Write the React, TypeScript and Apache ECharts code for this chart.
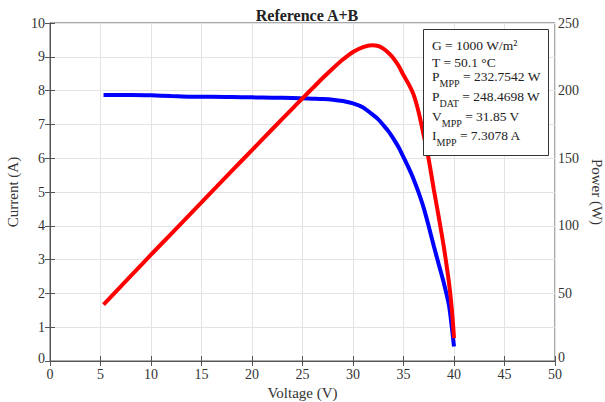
import React, { useEffect, useRef } from "react";
import * as echarts from "echarts";

const voltage = [5.3, 8, 10, 12, 14, 16, 18, 20, 22, 24, 25, 26, 27, 28, 29, 30, 31, 31.85, 32.5, 33, 33.5, 34, 34.5, 35, 35.5, 36, 36.5, 37, 37.5, 38, 38.5, 39, 39.5, 39.8, 40];
const current = [7.87, 7.87, 7.86, 7.84, 7.82, 7.82, 7.81, 7.8, 7.79, 7.78, 7.77, 7.76, 7.75, 7.73, 7.69, 7.62, 7.5, 7.31, 7.15, 6.98, 6.8, 6.58, 6.33, 6.03, 5.72, 5.38, 4.98, 4.53, 3.98, 3.4, 2.85, 2.3, 1.65, 0.95, 0.43];
const power = [41.7, 63.0, 78.6, 94.1, 109.5, 125.1, 140.6, 156.0, 171.4, 186.7, 194.3, 201.8, 209.3, 216.4, 223.0, 228.6, 232.2, 233.5, 233.0, 231.0, 228.0, 224.0, 218.5, 211.5, 205.0, 197.0, 184.0, 167.0, 149.0, 127.0, 106.0, 84.0, 58.0, 37.0, 17.0];

const titleText = "Reference A+B";
const xName = "Voltage (V)";
const yLeftName = "Current (A)";
const yRightName = "Power (W)";
const infoLines = [
  "{n|G = 1000 W/m²}",
  "{n|T = 50.1 °C}",
  "{n|P}{s|MPP}{n| = 232.7542 W}",
  "{n|P}{s|DAT}{n| = 248.4698 W}",
  "{n|V}{s|MPP}{n| = 31.85 V}",
  "{n|I}{s|MPP}{n| = 7.3078 A}",
];

const FONT = "'Liberation Serif', 'DejaVu Serif', serif";

export default function App() {
  const ref = useRef<HTMLDivElement>(null);
  useEffect(() => {
    if (!ref.current) return;
    const chart = echarts.init(ref.current, undefined, { renderer: "svg" });
    const infoTops = [38, 55, 69, 89, 109, 128];
    const textGraphics = infoLines.map((t, i) => ({
      type: "text",
      left: 432,
      top: infoTops[i],
      z: 101,
      style: {
        text: t,
        fill: "#222",
        rich: {
          n: { fontSize: 13.5, fontFamily: FONT, fill: "#222", padding: [0, 0, 5, 0], verticalAlign: "bottom" },
          s: { fontSize: 10, fontFamily: FONT, fill: "#222", verticalAlign: "bottom" },
        },
      },
    }));
    const axisLineStyle = { color: "#555" };
    chart.setOption({
      animation: false,
      backgroundColor: "#fff",
      textStyle: { fontFamily: FONT },
      title: {
        text: titleText,
        left: 302,
        textAlign: "center",
        top: 2,
        textStyle: { fontFamily: FONT, fontSize: 16, fontWeight: "bold", color: "#222" },
      },
      grid: {
        left: 50,
        right: 50,
        top: 23,
        bottom: 41,
        outerBoundsMode: "none",
        containLabel: false,
        show: true,
        borderColor: "#555",
        borderWidth: 1,
        backgroundColor: "transparent",
      },
      xAxis: [
        {
          type: "value",
          min: 0,
          max: 50,
          interval: 5,
          name: xName,
          nameLocation: "middle",
          nameGap: 22,
          nameTextStyle: { fontFamily: FONT, fontSize: 15, color: "#333" },
          axisLine: { show: true, lineStyle: axisLineStyle },
          axisTick: { show: true, inside: true, length: 5, lineStyle: axisLineStyle },
          axisLabel: { fontFamily: FONT, fontSize: 14, color: "#333", margin: 6 },
          splitLine: { show: true, lineStyle: { color: "#e3e3e3" } },
        },
        {
          type: "value",
          position: "top",
          min: 0,
          max: 50,
          interval: 5,
          axisLine: { show: true, lineStyle: axisLineStyle },
          axisTick: { show: true, inside: true, length: 5, lineStyle: axisLineStyle },
          axisLabel: { show: false },
          splitLine: { show: false },
        },
      ],
      yAxis: [
        {
          type: "value",
          min: 0,
          max: 10,
          interval: 1,
          name: yLeftName,
          nameLocation: "middle",
          nameGap: 21,
          nameTextStyle: { fontFamily: FONT, fontSize: 15, color: "#333" },
          axisLine: { show: true, lineStyle: axisLineStyle },
          axisTick: { show: true, inside: true, length: 5, lineStyle: axisLineStyle },
          axisLabel: {
            fontFamily: FONT,
            fontSize: 14,
            color: "#333",
            margin: 5,
            formatter: (v: number) => (v === 0 ? "{z|0}" : String(v)),
            rich: { z: { fontFamily: FONT, fontSize: 14, color: "#333", padding: [0, 0, 6, 0] } },
          },
          splitLine: { show: true, lineStyle: { color: "#e3e3e3" } },
        },
        {
          type: "value",
          min: 0,
          max: 250,
          interval: 25,
          position: "right",
          name: yRightName,
          nameLocation: "middle",
          nameGap: 30,
          nameRotate: -90,
          nameTextStyle: { fontFamily: FONT, fontSize: 15, color: "#333" },
          axisLine: { show: true, lineStyle: axisLineStyle },
          axisTick: { show: true, inside: true, length: 5, lineStyle: axisLineStyle },
          axisLabel: {
            fontFamily: FONT,
            fontSize: 14,
            color: "#333",
            margin: 3,
            formatter: (v: number) => (v === 0 ? "{z|0}" : v % 50 === 0 ? String(v) : ""),
            rich: { z: { fontFamily: FONT, fontSize: 14, color: "#333", padding: [0, 0, 8, 0] } },
          },
          splitLine: { show: false },
        },
      ],
      series: [
        {
          type: "line",
          xAxisIndex: 0,
          yAxisIndex: 0,
          data: voltage.map((v, i) => [v, current[i]]),
          showSymbol: false,
          smooth: 0.3,
          lineStyle: { color: "#0000ff", width: 4 },
          itemStyle: { color: "#0000ff" },
        },
        {
          type: "line",
          xAxisIndex: 0,
          yAxisIndex: 1,
          data: voltage.map((v, i) => [v, power[i]]),
          showSymbol: false,
          smooth: 0.3,
          lineStyle: { color: "#ff0000", width: 4 },
          itemStyle: { color: "#ff0000" },
        },
      ],
      graphic: [
        {
          type: "rect",
          left: 423,
          top: 29,
          z: 100,
          shape: { width: 125, height: 126 },
          style: { fill: "#fff", stroke: "#333", lineWidth: 1 },
        },
        ...textGraphics,
      ],
    });
    return () => chart.dispose();
  }, []);
  return (
    <div
      ref={ref}
      style={{ position: "fixed", left: 0, top: 0, width: 605, height: 402 }}
    />
  );
}
